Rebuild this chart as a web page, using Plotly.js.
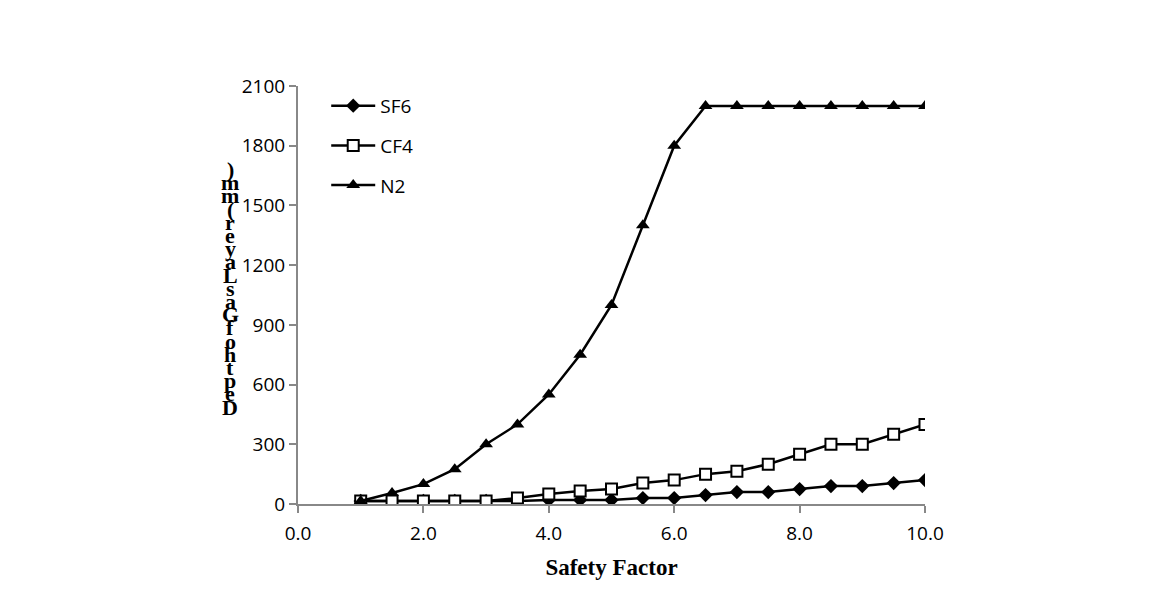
<!DOCTYPE html>
<html>
<head>
<meta charset="utf-8">
<script src="https://cdn.plot.ly/plotly-3.0.1.min.js"></script>
<style>html,body{margin:0;padding:0;background:#fff;}#chart{width:1157px;height:606px;}</style>
</head>
<body>
<div id="chart"></div>
<script>
const safetyFactor = [1.0,1.5,2.0,2.5,3.0,3.5,4.0,4.5,5.0,5.5,6.0,6.5,7.0,7.5,8.0,8.5,9.0,9.5,10.0];
const sf6 = [15,15,15,15,15,15,20,20,20,30,30,45,60,60,75,90,90,105,120];
const cf4 = [15,15,15,15,15,30,50,65,75,105,120,150,165,200,250,300,300,350,400];
const n2  = [15,55,100,175,300,400,550,750,1000,1400,1800,2000,2000,2000,2000,2000,2000,2000,2000];
const seriesNames = ["SF6","CF4","N2"];
const xTickVals = [0,2,4,6,8,10];
const xTickText = ["0.0","2.0","4.0","6.0","8.0","10.0"];
const yTickVals = [0,300,600,900,1200,1500,1800,2100];
const xTitle = "Safety Factor";
const yTitle = "Depth of Gas Layer (mm)";

const tickFont = {family:"Open Sans, sans-serif", size:19, color:"#000"};
const lineStyle = {color:"#000", width:2.5};

const traces = [
  {x:safetyFactor, y:sf6, name:seriesNames[0], legendgroup:"a", mode:"lines+markers", line:lineStyle,
   marker:{symbol:"diamond", size:11, color:"#000"}},
  {x:safetyFactor, y:cf4, name:seriesNames[1], legendgroup:"b", mode:"lines+markers", line:lineStyle,
   marker:{symbol:"square", size:11, color:"#fff", line:{color:"#000", width:2}}},
  {x:safetyFactor, y:n2, name:seriesNames[2], legendgroup:"c", mode:"lines+markers", line:lineStyle,
   marker:{symbol:"triangle-up", size:12, color:"#000"}}
];

// Vertical stacked y-axis title (characters stacked, reading bottom to top)
const chars = yTitle.replace(/ /g,"").split("");
const annotations = chars.map((c,i)=>({
  text:"<b>"+c+"</b>", xref:"paper", yref:"paper", x:0, y:0, xanchor:"center", yanchor:"middle",
  xshift:-68, yshift:(504-407) + i*13.2, showarrow:false,
  font:{family:"Liberation Serif, serif", size:22, color:"#000"}
}));

const layout = {
  width:1157, height:606,
  margin:{l:298, r:232, t:86, b:102},
  paper_bgcolor:"#fff", plot_bgcolor:"#fff",
  showlegend:true,
  legend:{x:0.045, y:0.998, xanchor:"left", yanchor:"top", font:tickFont, tracegroupgap:12,
          itemwidth:44, bgcolor:"rgba(0,0,0,0)"},
  xaxis:{range:[0,10], tickvals:xTickVals, ticktext:xTickText, showgrid:false, zeroline:false,
    showline:true, linecolor:"#888", linewidth:2, ticks:"outside", ticklen:7, tickcolor:"#888", tickwidth:2,
    tickfont:tickFont, ticklabelstandoff:4,
    title:{text:"<b>"+xTitle+"</b>", font:{family:"Liberation Serif, serif", size:23, color:"#000"}, standoff:14}},
  yaxis:{range:[0,2100], tickvals:yTickVals, showgrid:false, zeroline:false,
    showline:true, linecolor:"#888", linewidth:2, ticks:"outside", ticklen:7, tickcolor:"#888", tickwidth:2,
    tickfont:tickFont},
  annotations:annotations
};

Plotly.newPlot("chart", traces, layout, {displayModeBar:false, staticPlot:true});
</script>
</body>
</html>
